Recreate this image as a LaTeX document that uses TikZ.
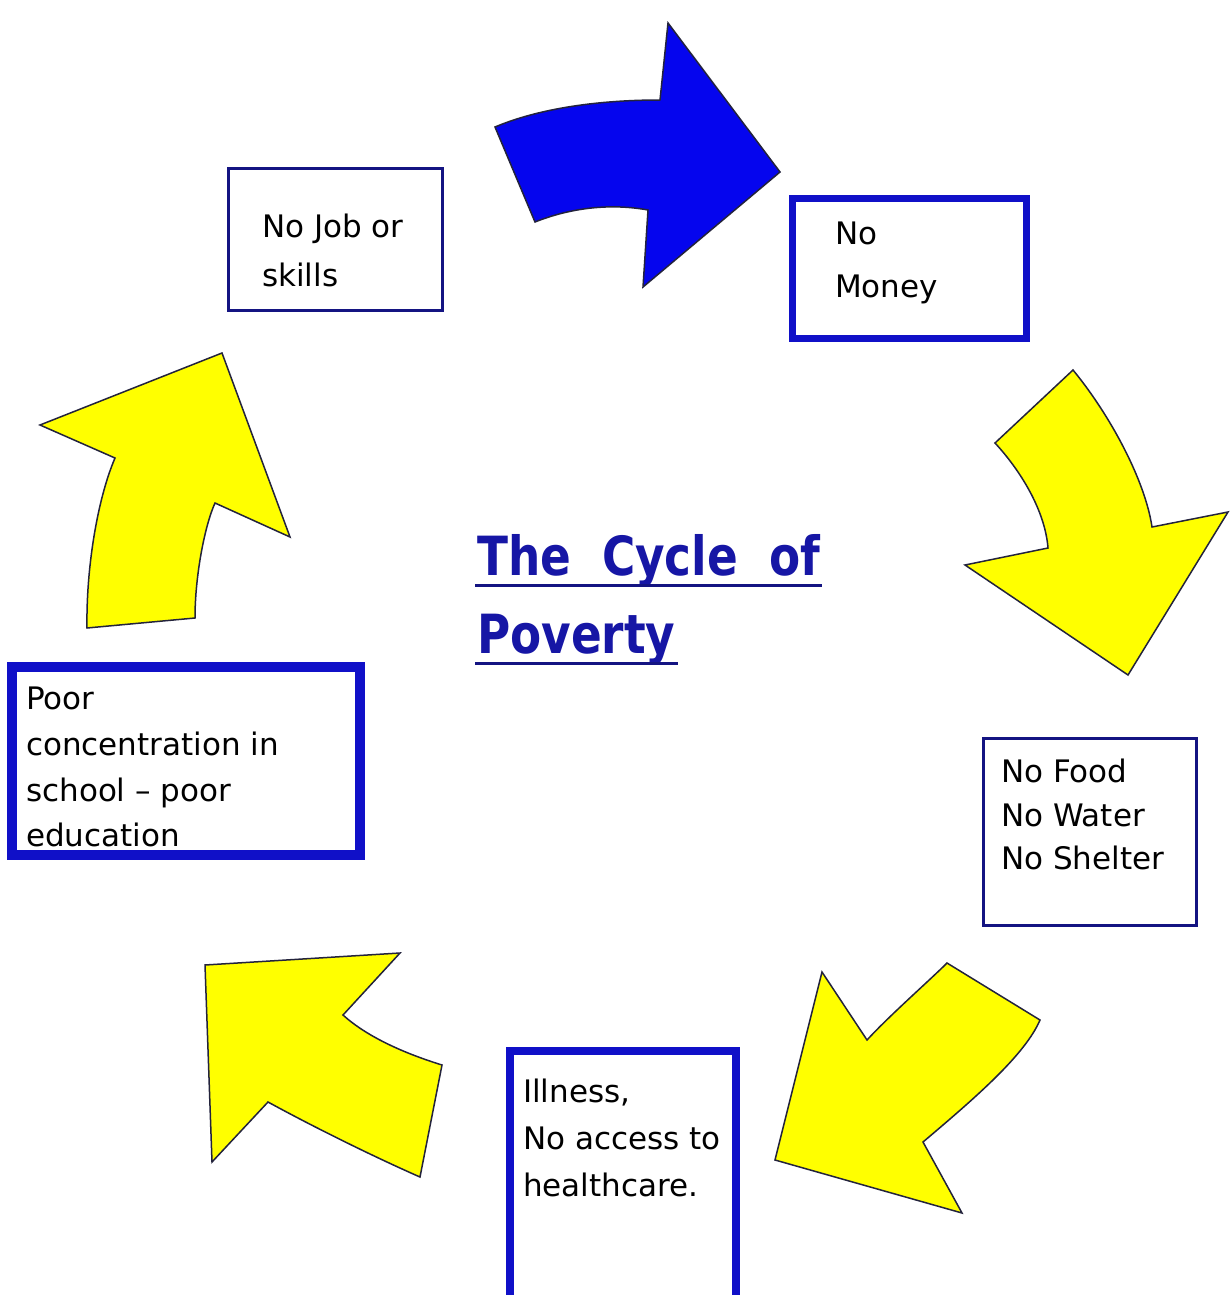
\documentclass[tikz,border=0pt]{standalone}
\usepackage{fontspec}
\usepackage{graphicx}
\newfontfamily\bodyfont{DejaVu Sans}
\definecolor{navyline}{RGB}{20,20,130}
\definecolor{boxblue}{RGB}{16,16,200}
\definecolor{arrowblue}{RGB}{5,5,238}
\definecolor{arrowyellow}{RGB}{255,255,0}
\definecolor{outline}{RGB}{35,35,60}
\definecolor{titleblue}{RGB}{22,22,165}
\begin{document}
\begin{tikzpicture}[x=1pt,y=-1pt,
  thinbox/.style={draw=navyline,line width=3pt,fill=white,inner sep=0pt,outer sep=0pt,anchor=north west},
  thickbox/.style={draw=boxblue,fill=white,inner sep=0pt,outer sep=0pt,anchor=north west},
  bodytext/.style={inner sep=0pt,anchor=north west,align=left,text=black},
  titletext/.style={inner sep=0pt,anchor=base west,text=titleblue,font=\bodyfont\bfseries\fontsize{54}{60}\selectfont},
  uline/.style={draw=navyline,line width=3pt},
  arrowshape/.style={draw=outline,line width=1.5pt,line join=miter}]
\useasboundingbox (0,0) rectangle (1230,1295);
\clip (0,0) rectangle (1230,1295);
\fill[white] (0,0) rectangle (1230,1295);

% curved arrows of the cycle
\path[arrowshape,fill=arrowblue]
  (495,127) .. controls (540,108) and (600,100) .. (660,100)
  -- (668,23) -- (780,172) -- (643,287) -- (648,210)
  .. controls (610,203) and (570,208) .. (535,222) -- cycle;

\path[arrowshape,fill=arrowyellow]
  (1073,370) -- (995,443)
  .. controls (1020,470) and (1045,510) .. (1048,548)
  -- (965,565) -- (1128,675) -- (1228,512) -- (1152,527)
  .. controls (1145,480) and (1110,415) .. cycle;

\path[arrowshape,fill=arrowyellow]
  (1040,1020) -- (947,963)
  .. controls (930,980) and (890,1015) .. (867,1040)
  -- (822,972) -- (775,1160) -- (962,1213) -- (923,1142)
  .. controls (975,1098) and (1025,1055) .. cycle;

\path[arrowshape,fill=arrowyellow]
  (205,965) -- (400,953) -- (343,1015)
  .. controls (365,1035) and (400,1052) .. (442,1065)
  -- (420,1177)
  .. controls (370,1155) and (310,1125) .. (268,1102)
  -- (212,1162) -- cycle;

\path[arrowshape,fill=arrowyellow]
  (40,425) -- (222,353) -- (290,537) -- (215,503)
  .. controls (205,525) and (195,575) .. (195,618)
  -- (87,628)
  .. controls (86,570) and (97,500) .. (115,458) -- cycle;

% boxes
\node[thinbox,minimum width=214pt,minimum height=142pt] (job) at (228,168) {};
\node[thickbox,line width=7pt,minimum width=234pt,minimum height=140pt] (money) at (792,198) {};
\node[thinbox,minimum width=213pt,minimum height=187pt] (food) at (983,738) {};
\node[thickbox,line width=8pt,minimum width=226pt,minimum height=300pt] (ill) at (510,1051) {};
\node[thickbox,line width=10pt,minimum width=348pt,minimum height=188pt] (poor) at (12,667) {};

% box texts
\node[bodytext,font=\bodyfont\fontsize{31}{49}\selectfont] (jobtext) at (262,214) {No Job or\\skills};
\node[bodytext,font=\bodyfont\fontsize{31}{53}\selectfont] (moneytext) at (835,222) {No\\Money};
\node[bodytext,font=\bodyfont\fontsize{31}{43.5}\selectfont] (foodtext) at (1001,759) {No Food\\No Water\\No Shelter};
\node[bodytext,font=\bodyfont\fontsize{31}{47}\selectfont] (illtext) at (523,1079) {Illness,\\No access to\\healthcare.};
\node[bodytext,font=\bodyfont\fontsize{31}{45.7}\selectfont] (poortext) at (26,687) {Poor\\concentration in\\school – poor\\education};

% title
\node[titletext] (title1) at (477,575) {\scalebox{0.84}[1]{The\hspace{18pt} Cycle\hspace{18pt} of}};
\node[titletext] (title2) at (477,653) {\scalebox{0.84}[1]{Poverty}};
\draw[uline] ([shift={(-2pt,-10pt)}]title1.base west) -- ([shift={(2pt,-10pt)}]title1.base east);
\draw[uline] ([shift={(-2pt,-10pt)}]title2.base west) -- ([shift={(2pt,-10pt)}]title2.base east);
\end{tikzpicture}
\end{document}
